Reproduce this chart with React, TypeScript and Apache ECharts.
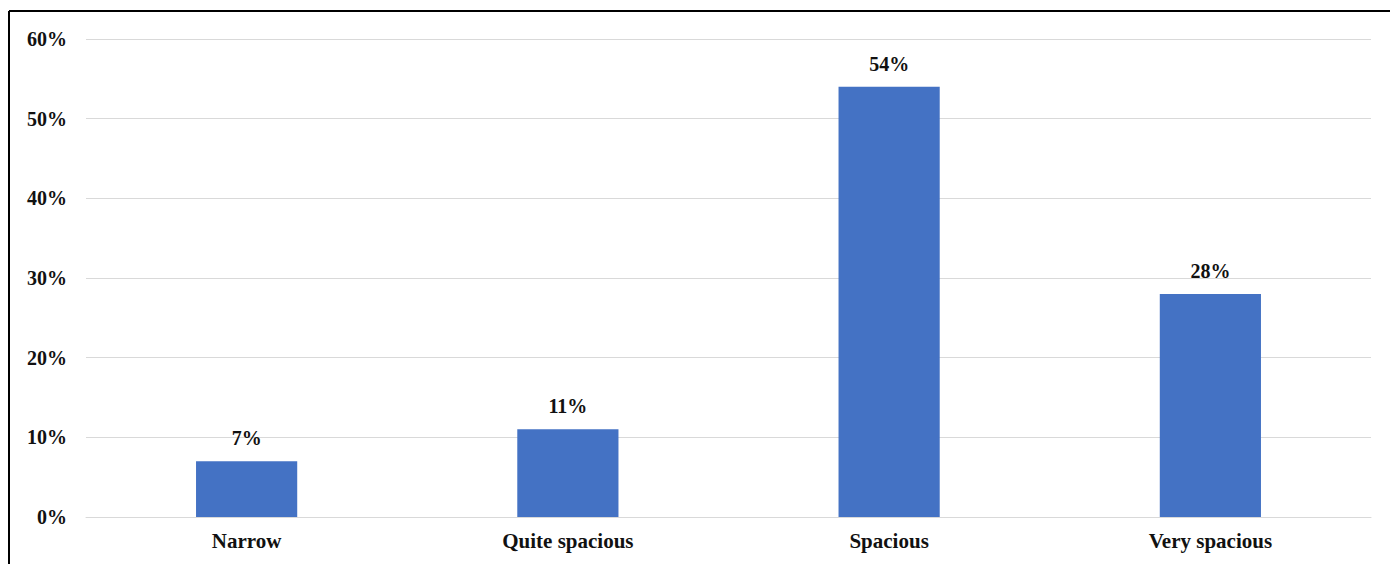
import React, { useEffect, useRef } from "react";
import * as echarts from "echarts";

const categories = ["Narrow", "Quite spacious", "Spacious", "Very spacious"];
const shares = [7, 11, 54, 28];
const yTicks = [0, 10, 20, 30, 40, 50, 60];

const FONT = "'Liberation Serif', 'Times New Roman', serif";

export default function App() {
  const ref = useRef<HTMLDivElement>(null);

  useEffect(() => {
    document.body.style.margin = "0";
    if (!ref.current) return;
    const chart = echarts.init(ref.current, null, { renderer: "svg" });
    chart.setOption({
      animation: false,
      backgroundColor: "#ffffff",
      grid: { left: 86, right: 19, top: 39, bottom: 47 },
      xAxis: {
        type: "category",
        data: categories,
        axisTick: { show: false },
        axisLine: { lineStyle: { color: "#d9d9d9", width: 1 } },
        axisLabel: {
          margin: 13,
          color: "#111",
          fontFamily: FONT,
          fontWeight: "bold",
          fontSize: 21,
        },
      },
      yAxis: {
        type: "value",
        min: yTicks[0],
        max: yTicks[yTicks.length - 1],
        interval: 10,
        axisLine: { show: false },
        axisTick: { show: false },
        splitLine: { lineStyle: { color: "#d9d9d9", width: 1 } },
        axisLabel: {
          margin: 19,
          color: "#111",
          fontFamily: FONT,
          fontWeight: "bold",
          fontSize: 20,
          formatter: (v: number) => `${v}%`,
        },
      },
      series: [
        {
          type: "bar",
          data: shares,
          barWidth: "31.5%",
          itemStyle: { color: "#4472c4" },
          label: {
            show: true,
            position: "top",
            distance: 13,
            color: "#111",
            fontFamily: FONT,
            fontWeight: "bold",
            fontSize: 20,
            formatter: (p: any) => `${p.value}%`,
          },
        },
      ],
      graphic: [
        {
          type: "line",
          shape: { x1: 9, y1: 11, x2: 1390, y2: 11 },
          style: { stroke: "#000", lineWidth: 2 },
        },
        {
          type: "line",
          shape: { x1: 9, y1: 11, x2: 9, y2: 564 },
          style: { stroke: "#000", lineWidth: 2 },
        },
      ],
    });
    return () => chart.dispose();
  }, []);

  return <div ref={ref} style={{ width: 1390, height: 564 }} />;
}
